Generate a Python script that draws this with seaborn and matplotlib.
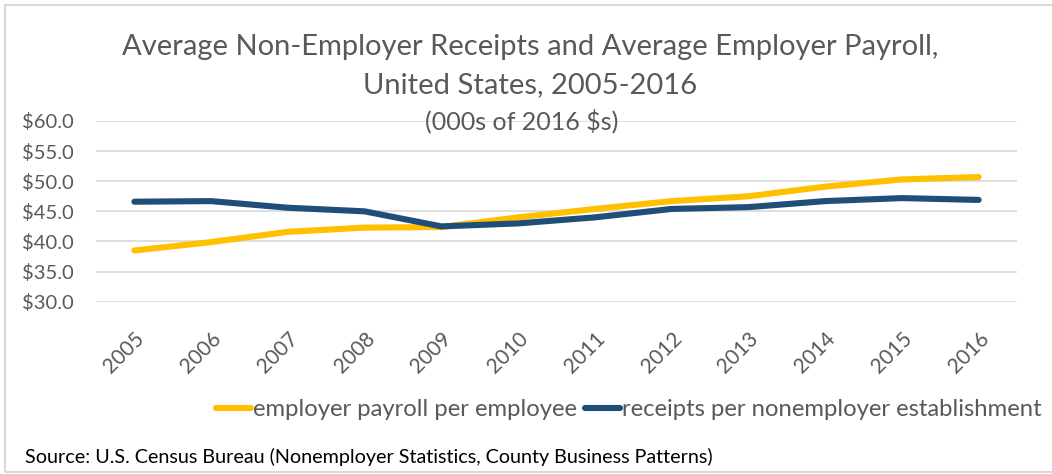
import pandas as pd
import matplotlib.pyplot as plt
import seaborn as sns
from matplotlib.patches import Rectangle

years = ["2005", "2006", "2007", "2008", "2009", "2010",
         "2011", "2012", "2013", "2014", "2015", "2016"]
payroll = [38.5, 39.9, 41.6, 42.3, 42.4, 44.0,
           45.4, 46.7, 47.5, 49.1, 50.3, 50.7]
receipts = [46.6, 46.7, 45.6, 45.0, 42.5, 43.0,
            44.0, 45.4, 45.7, 46.7, 47.2, 46.9]
series_names = ["employer payroll per employee",
                "receipts per nonemployer establishment"]
colors = ["#FFC000", "#1F4E79"]

df = pd.DataFrame({
    "year": years * 2,
    "value": payroll + receipts,
    "series": [series_names[0]] * len(years) + [series_names[1]] * len(years),
})
df["pos"] = list(range(len(years))) * 2

sns.set_style("white")
plt.rcParams["font.family"] = ["Lato", "DejaVu Sans"]
grey = "#595959"

fig = plt.figure(figsize=(10.52, 4.74), dpi=100)
ax = fig.add_axes([96 / 1052, 1 - 301.7 / 474, 921 / 1052, 180.7 / 474])

sns.lineplot(data=df, x="pos", y="value", hue="series", palette=colors,
             linewidth=4.4, ax=ax, legend=False, zorder=3)
for ln in ax.lines:
    ln.set_solid_capstyle("round")

ax.set_xlim(-0.5, len(years) - 0.5)
ax.set_ylim(30, 60)
ax.set_yticks(range(30, 61, 5))
ax.set_yticklabels([f"${v:.1f}" for v in range(30, 61, 5)], fontsize=14.5, color=grey)
ax.set_xticks(range(len(years)))
ax.set_xticklabels(years, rotation=45, ha="right", rotation_mode="anchor",
                   fontsize=15, color=grey)
ax.tick_params(axis="x", length=0, pad=19)
ax.tick_params(axis="y", length=0, pad=16)
ax.grid(axis="y", color="#D9D9D9", linewidth=1.2)
ax.set_axisbelow(True)
for s in ax.spines.values():
    s.set_visible(False)
ax.set_xlabel("")
ax.set_ylabel("")

fig.text(530 / 1052, 1 - 47 / 474, "Average Non-Employer Receipts and Average Employer Payroll,",
         ha="center", va="center", fontsize=21, color=grey)
fig.text(530 / 1052, 1 - 85 / 474, "United States, 2005-2016",
         ha="center", va="center", fontsize=21, color=grey)
fig.text(522 / 1052, 1 - 121 / 474, "(000s of 2016 $s)",
         ha="center", va="center", fontsize=18, color=grey)

handles = [plt.Line2D([0], [0], color=c, linewidth=4.4, solid_capstyle="round")
           for c in colors]
leg = fig.legend(handles, series_names, loc="center", ncol=2,
                 bbox_to_anchor=(629 / 1052, 1 - 410 / 474), frameon=False,
                 fontsize=17.2, handlelength=1.45, handletextpad=0.1, columnspacing=0.35,
                 borderpad=0)
for t in leg.get_texts():
    t.set_color(grey)

fig.text(25 / 1052, 1 - 457 / 474,
         "Source: U.S. Census Bureau (Nonemployer Statistics, County Business Patterns)",
         ha="left", va="center", fontsize=14.2, color="black")

fig.patches.append(Rectangle((5 / 1052, 1 - 472 / 474), 1, 467 / 474,
                             transform=fig.transFigure, fill=False,
                             edgecolor="#D9D9D9", linewidth=1.5))

fig.savefig("out.png", dpi=100, facecolor="white")
